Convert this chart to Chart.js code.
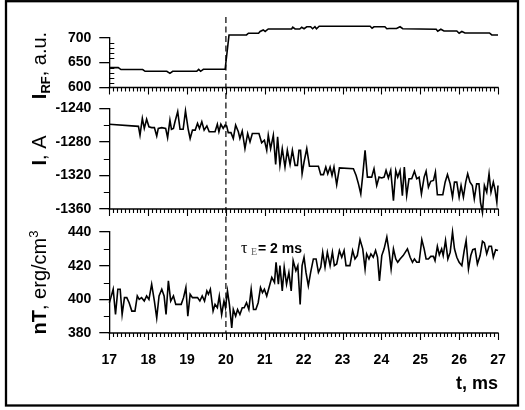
<!DOCTYPE html>
<html><head><meta charset="utf-8">
<script src="https://cdn.jsdelivr.net/npm/chart.js@4.4.1/dist/chart.umd.min.js"></script>
<style>html,body{margin:0;padding:0;background:#fff}canvas{display:block}</style>
</head><body>
<canvas id="c" width="525" height="410"></canvas>
<script>
// ---- data ----
const tRF = [17.0,17.23,17.3,17.86,17.92,18.48,18.56,18.63,19.25,19.3,19.35,19.42,19.98,20.08,20.53,20.58,20.84,20.88,20.96,21.01,21.09,21.69,21.72,21.78,21.9,21.95,22.01,22.08,22.18,22.23,22.29,22.33,22.4,23.71,23.76,23.81,24.09,24.14,24.2,24.39,24.48,24.55,25.41,25.45,25.53,25.61,25.94,26.0,26.07,26.15,26.78,26.84,27.0];
const vRF = [640,640,636,636,632.5,632.5,628.5,632.5,632.5,636.5,632.5,636.5,636.5,705.5,705.5,709,709,712.5,715.5,712.5,717.5,717.5,721,717.5,717.5,721,718,722,722,718,722,718,723,723,719,722,722,718,718.5,718.5,722,718,717,713,717,713.5,713.5,709,712.5,709.5,709.5,705.5,705.5];

const tI = [17.0,17.75,17.79,17.85,17.90,17.96,18.02,18.09,18.16,18.22,18.26,18.35,18.45,18.50,18.56,18.60,18.65,18.69,18.76,18.82,18.90,18.96,19.03,19.08,19.14,19.21,19.27,19.32,19.38,19.44,19.51,19.57,19.72,19.78,19.82,19.87,19.93,19.98,20.02,20.06,20.13,20.19,20.25,20.32,20.36,20.42,20.49,20.56,20.62,20.68,20.85,20.92,20.99,21.05,21.09,21.15,21.22,21.28,21.33,21.39,21.45,21.52,21.58,21.65,21.71,21.78,21.84,21.88,21.92,21.96,22.01,22.08,22.15,22.38,22.44,22.51,22.57,22.62,22.68,22.73,22.78,22.85,22.92,23.28,23.35,23.41,23.47,23.52,23.58,23.64,23.75,23.81,23.88,23.94,24.01,24.07,24.12,24.18,24.24,24.31,24.37,24.42,24.48,24.54,24.59,24.65,24.71,24.78,24.85,24.91,24.97,25.03,25.10,25.15,25.21,25.27,25.34,25.39,25.44,25.58,25.64,25.70,25.77,25.83,25.88,25.94,26.00,26.05,26.11,26.17,26.22,26.28,26.34,26.39,26.45,26.51,26.55,26.60,26.65,26.71,26.77,26.82,26.88,26.92,26.97,27.0];
const vI = [-1259,-1261.5,-1272,-1252,-1264,-1253,-1262,-1263,-1263,-1273,-1264,-1263,-1264,-1275,-1254,-1265,-1264,-1256,-1244,-1265,-1265,-1243,-1265,-1276,-1266,-1266,-1258,-1264,-1256,-1266,-1261,-1268,-1268,-1259,-1268,-1259,-1264,-1260,-1261,-1269,-1269,-1276,-1260,-1268,-1276,-1267,-1288,-1270,-1280,-1270,-1270,-1281,-1278,-1290,-1272,-1288,-1272,-1307,-1274,-1308,-1288,-1310,-1290,-1307,-1290,-1308,-1308,-1290,-1290,-1318,-1304,-1288,-1309,-1309,-1319,-1319,-1310,-1318,-1310,-1320,-1310,-1331,-1311,-1312,-1320,-1330,-1342,-1320,-1290,-1322,-1322,-1312,-1332,-1322,-1323,-1322,-1314,-1323,-1314,-1350,-1314,-1322,-1314,-1344,-1310,-1344,-1324,-1324,-1315,-1324,-1322,-1342,-1322,-1315,-1334,-1327,-1326,-1316,-1343,-1343,-1328,-1319,-1330,-1346,-1328,-1328,-1346,-1332,-1346,-1328,-1318,-1328,-1332,-1348,-1330,-1330,-1352,-1364,-1332,-1340,-1318,-1340,-1328,-1336,-1352,-1332];

const tNT = [17.0,17.04,17.10,17.16,17.22,17.28,17.33,17.39,17.45,17.51,17.58,17.66,17.72,17.77,17.83,17.90,17.96,18.02,18.09,18.16,18.22,18.28,18.35,18.41,18.46,18.52,18.58,18.65,18.71,18.85,18.91,18.97,19.02,19.08,19.14,19.27,19.33,19.39,19.45,19.51,19.55,19.60,19.67,19.72,19.78,19.83,19.89,19.95,19.99,20.04,20.09,20.15,20.19,20.25,20.30,20.36,20.42,20.47,20.53,20.59,20.65,20.71,20.77,20.83,20.89,20.94,20.99,21.05,21.11,21.18,21.25,21.29,21.35,21.39,21.45,21.50,21.56,21.62,21.68,21.73,21.80,21.85,21.91,21.96,22.01,22.06,22.12,22.18,22.25,22.32,22.38,22.44,22.49,22.55,22.61,22.68,22.74,22.79,22.85,22.92,22.98,23.04,23.09,23.19,23.26,23.32,23.38,23.45,23.52,23.58,23.62,23.68,23.73,23.79,23.85,23.90,23.95,24.01,24.07,24.14,24.20,24.25,24.31,24.37,24.42,24.48,24.56,24.67,24.74,24.80,24.85,24.91,24.97,25.04,25.10,25.15,25.21,25.27,25.34,25.38,25.44,25.49,25.55,25.59,25.65,25.71,25.77,25.83,25.88,25.94,26.00,26.07,26.13,26.18,26.24,26.30,26.35,26.41,26.47,26.54,26.60,26.65,26.71,26.77,26.83,26.88,26.94,27.0];
const vNT = [398,401,406,391,406,406,391,401,401,398,393,393,402,400,401,399,402,400,409,399,389,402,406,402,391,411,399,402,397,397,401,407,390,403,401,401,399,402,399,405,403,406,393,397,395,402,391,399,395,405,397,383,394,390,394,391,395,395,398,394,406,394,394,398,407,404,406,402,407,413,410,422,409,420,405,419,409,416,405,423,417,420,397,420,425,416,408,416,424,424,416,419,428,419,428,420,428,420,421,429,425,429,420,420,429,424,426,435.5,430,418,427,424,427,425,429,425,411,426,430,437,428,418,430,424,422,424,426,430,425,422,424,422,422,435.5,430,424,424,425.5,425.5,423,431.5,426.5,430,426,435,424,428,440,430,425,422,420,429,435,418,426,429.5,430,421,426,434.5,433.5,427,431.5,431.5,425,429.5,429];

// tick labels
const xTickVals = [17,18,19,20,21,22,23,24,25,26,27];
const rfTicks = [600,650,700];
const iTicks = [-1360,-1320,-1280,-1240];
const ntTicks = [380,400,420,440];
const rfMinor = [610,620,630,640,660,670,680,690];
const iMinor = [-1340,-1300,-1260];
const ntMinor = [390,410,430];
const markTime = 20;

const SANS = '"Liberation Sans", Arial, sans-serif';
const SERIF = '"Liberation Serif", "DejaVu Serif", serif';

const pts = (t, v) => t.map((x, i) => ({x, y: v[i]}));
const lineDs = (t, v, axis) => ({data: pts(t, v), yAxisID: axis, borderColor: '#000', borderWidth: 1.6, pointRadius: 0, tension: 0, clip: false, fill: false});

const yAxis = (min, max, ticks, weight, stackWeight) => ({
  type: 'linear', position: 'left', stack: 'p', stackWeight, weight, min, max,
  afterFit: s => { s.width = 60; },
  afterBuildTicks: s => { s.ticks = ticks.map(v => ({value: v})); },
  border: {display: true, color: '#000', width: 1.3},
  grid: {display: true, drawOnChartArea: false, drawTicks: true, tickLength: 10, color: '#000', lineWidth: 1.3},
  ticks: {color: '#000', font: {family: SANS, size: 14, weight: 'bold'}, padding: 8, autoSkip: false, callback: v => String(v)}
});
const spacer = (weight, stackWeight) => ({
  type: 'linear', position: 'left', stack: 'p', stackWeight, weight, min: 0, max: 1,
  afterFit: s => { s.width = 60; },
  border: {display: false}, grid: {display: false, drawTicks: false}, ticks: {display: false}
});

function rotText(ctx, cx, cy, parts) {
  ctx.save();
  ctx.translate(cx, cy); ctx.rotate(-Math.PI / 2);
  let total = 0;
  parts.forEach(p => { ctx.font = p.font; p.w = ctx.measureText(p.text).width; total += p.w; });
  let xx = -total / 2;
  ctx.textBaseline = 'alphabetic'; ctx.textAlign = 'left'; ctx.fillStyle = '#000';
  parts.forEach(p => { ctx.font = p.font; ctx.fillText(p.text, xx, p.dy || 0); xx += p.w; });
  ctx.restore();
}

const decor = {
  id: 'decor',
  beforeDraw(chart) {
    const ctx = chart.ctx;
    ctx.save(); ctx.fillStyle = '#fff'; ctx.fillRect(0, 0, chart.width, chart.height); ctx.restore();
  },
  afterDraw(chart) {
    const {ctx, chartArea, scales} = chart;
    const x = scales.x;
    ctx.save();
    ctx.strokeStyle = '#000';
    // horizontal axis of each panel with major/minor ticks
    [scales.yRF, scales.yI, scales.yNT].forEach(s => {
      const yb = s.getPixelForValue(s.min);
      ctx.lineWidth = 1.3;
      ctx.beginPath(); ctx.moveTo(x.left - 0.65, yb); ctx.lineTo(x.right + 0.65, yb); ctx.stroke();
      ctx.lineWidth = 1.1;
      ctx.beginPath();
      for (let i = 0; i <= 100; i++) {
        const px = Math.round(x.getPixelForValue(x.min + i * (x.max - x.min) / 100)) + 0.5;
        const len = i % 10 === 0 ? 7 : 4;
        ctx.moveTo(px, yb); ctx.lineTo(px, yb + len);
      }
      ctx.stroke();
    });
    // y minor ticks
    const minor = (s, vals, dir, len) => {
      ctx.beginPath();
      vals.forEach(v => { const py = Math.round(s.getPixelForValue(v)) + 0.5; ctx.moveTo(s.right, py); ctx.lineTo(s.right + dir * len, py); });
      ctx.stroke();
    };
    ctx.lineWidth = 1.2;
    minor(scales.yRF, rfMinor, 1, 5);
    minor(scales.yI, iMinor, -1, 5.5);
    minor(scales.yNT, ntMinor, -1, 5.5);
    // dashed marker line
    const xm = x.getPixelForValue(markTime);
    ctx.lineWidth = 1.2; ctx.setLineDash([6, 3.5]);
    ctx.beginPath(); ctx.moveTo(xm, chartArea.top); ctx.lineTo(xm, scales.yNT.getPixelForValue(scales.yNT.min)); ctx.stroke();
    ctx.setLineDash([]);
    // annotation
    ctx.fillStyle = '#000'; ctx.textBaseline = 'alphabetic'; ctx.textAlign = 'left';
    ctx.font = '16px ' + SERIF; ctx.fillText('\u03C4', 241, 253);
    ctx.fillStyle = '#666'; ctx.font = '10px ' + SERIF; ctx.fillText('E', 251, 255);
    ctx.fillStyle = '#000'; ctx.font = 'bold 14px ' + SANS; ctx.fillText('= 2 ms', 258, 253);
    // y titles
    const B = 'bold 20px ' + SANS, R = '20px ' + SANS;
    rotText(ctx, 46, 65.5, [{text: 'I', font: B}, {text: 'RF', font: 'bold 13px ' + SANS, dy: 4}, {text: ', a.u.', font: R}]);
    rotText(ctx, 46, 150.5, [{text: 'I', font: B}, {text: ', A', font: R}]);
    rotText(ctx, 46, 282.5, [{text: 'nT', font: B}, {text: ', erg/cm', font: R}, {text: '3', font: '13px ' + SANS, dy: -8}]);
    // frame
    ctx.lineWidth = 2.3;
    ctx.strokeRect(6, 1.2, 512, 404.3);
    ctx.restore();
  }
};

new Chart(document.getElementById('c'), {
  type: 'line',
  data: {datasets: [lineDs(tRF, vRF, 'yRF'), lineDs(tI, vI, 'yI'), lineDs(tNT, vNT, 'yNT')]},
  options: {
    responsive: false, animation: false, events: [],
    layout: {padding: {left: 49.3, right: 27, top: 17, bottom: 13}},
    plugins: {legend: {display: false}, tooltip: {enabled: false}},
    scales: {
      x: {
        type: 'linear', position: 'bottom', min: 17, max: 27,
        afterFit: s => { s.height = 64; },
        afterBuildTicks: s => { s.ticks = xTickVals.map(v => ({value: v})); },
        border: {display: false}, grid: {display: false, drawTicks: false},
        ticks: {color: '#000', font: {family: SANS, size: 14, weight: 'bold'}, padding: 19, maxRotation: 0, autoSkip: false},
        title: {display: true, text: 't, ms', align: 'end', color: '#000', font: {family: SANS, size: 18, weight: 'bold'}, padding: {top: 0, bottom: 2}}
      },
      gap0: spacer(6, 20.7),
      yRF: yAxis(600, 700, rfTicks, 5, 49.8),
      gap1: spacer(4, 20.8),
      yI: yAxis(-1360, -1240, iTicks, 3, 100.7),
      gap2: spacer(2, 23),
      yNT: yAxis(380, 440, ntTicks, 1, 101)
    }
  },
  plugins: [decor]
});
</script>
</body></html>
